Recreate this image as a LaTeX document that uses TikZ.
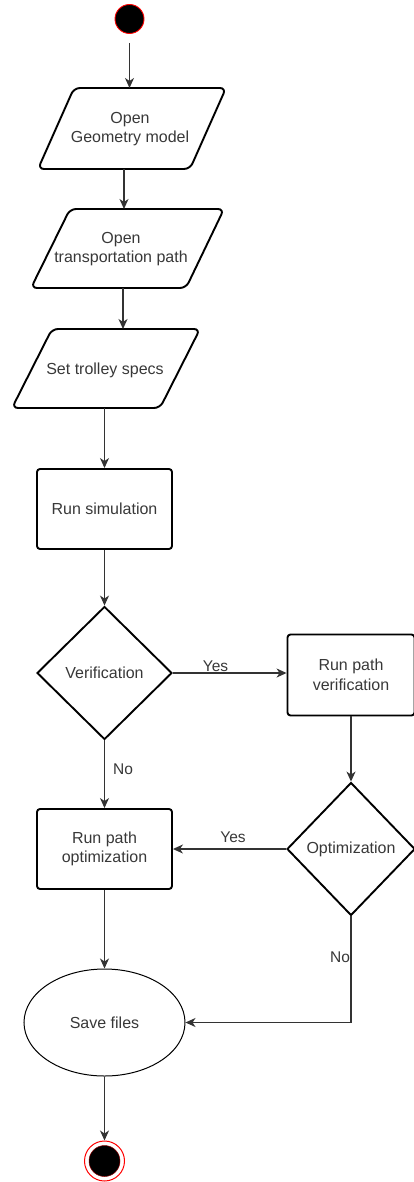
\documentclass[tikz,border=0pt]{standalone}
\usepackage{fontspec}
\setmainfont{Liberation Sans}
\usetikzlibrary{shapes.geometric,arrows.meta}
\begin{document}
\begin{tikzpicture}[x=1pt,y=-1pt,
  every node/.style={font=\fontsize{16}{19.5}\selectfont, text=black!78},
  proc/.style={draw=black, line width=1.9pt, rounded corners=3pt, minimum width=135pt, minimum height=80pt, align=center, inner sep=0pt},
  decision/.style={diamond, draw=black, line width=1.9pt, minimum width=135pt, minimum height=133pt, inner sep=0pt, align=center},
  iobox/.style={draw=black, line width=1.9pt, rounded corners=6pt, line join=round},
  iotext/.style={align=center, inner sep=0pt},
  flow/.style={draw=black!80, line width=1.3pt, -{Stealth[length=10pt,width=9pt,inset=3pt]}},
  lbl/.style={font=\fontsize{15.5}{18}\selectfont, inner sep=1pt}
]
\useasboundingbox (0,0) rectangle (414,1182);

% start state
\node[circle, fill=black, draw=red, line width=0.9pt, minimum size=29pt, inner sep=0pt] (start) at (129.5,19) {};

% input/output parallelograms
\draw[iobox] (74,88) -- (226,88) -- (190,169) -- (38,169) -- cycle;
\node[iotext] (p1) at (130,129) {Open\\Geometry model};
\coordinate (p1t) at (129.5,88);
\coordinate (p1b) at (124,169);

\draw[iobox] (70,209) -- (224,209) -- (186,288) -- (31,288) -- cycle;
\node[iotext] (p2) at (121,249) {Open\\transportation path};
\coordinate (p2t) at (124,209);
\coordinate (p2b) at (123,288);

\draw[iobox] (52,329) -- (200,329) -- (160,408) -- (12,408) -- cycle;
\node[iotext] (p3) at (105,370) {Set trolley specs};
\coordinate (p3t) at (123,329);
\coordinate (p3b) at (104.5,408);

% processes and decisions
\node[proc] (sim) at (104.5,509) {Run simulation};
\node[decision] (ver) at (104.5,673) {Verification};
\node[proc, minimum width=127pt, minimum height=81pt] (rpv) at (351,675) {Run path\\verification};
\node[decision, minimum width=128pt] (opt) at (351,849) {Optimization};
\node[proc] (rpo) at (104.5,849) {Run path\\optimization};
\node[ellipse, draw=black, line width=1pt, minimum width=161pt, minimum height=107pt, inner sep=0pt] (save) at (104.5,1022.5) {Save files};

% end state
\node[circle, draw=red, line width=1pt, minimum size=40pt, inner sep=0pt] (end) at (104.5,1161) {};
\node[circle, fill=black, draw=red!55!black, line width=0.5pt, minimum size=31pt, inner sep=0pt] (endcore) at (end.center) {};

% connectors
\draw[flow, shorten <=9pt] (start) -- (p1t);
\draw[flow] (p1b) -- (p2t);
\draw[flow] (p2b) -- (p3t);
\draw[flow] (p3b) -- (sim.north);
\draw[flow] (sim.south) -- (ver.north);
\draw[flow] (ver.east) -- (ver.east -| rpv.west);
\draw[flow] (rpv.south) -- (opt.north);
\draw[flow] (opt.west) -- (rpo.east);
\draw[flow] (ver.south) -- (rpo.north);
\draw[flow] (rpo.south) -- (save.north);
\draw[flow] (opt.south) |- (save.east);
\draw[flow] (save.south) -- (end.north);

% connector labels
\node[lbl, fill=white] (yes1) at (215.5,666) {Yes};
\node[lbl] (yes2) at (233,837) {Yes};
\node[lbl] (no1) at (123,769) {No};
\node[lbl] (no2) at (340,957) {No};
\end{tikzpicture}
\end{document}
